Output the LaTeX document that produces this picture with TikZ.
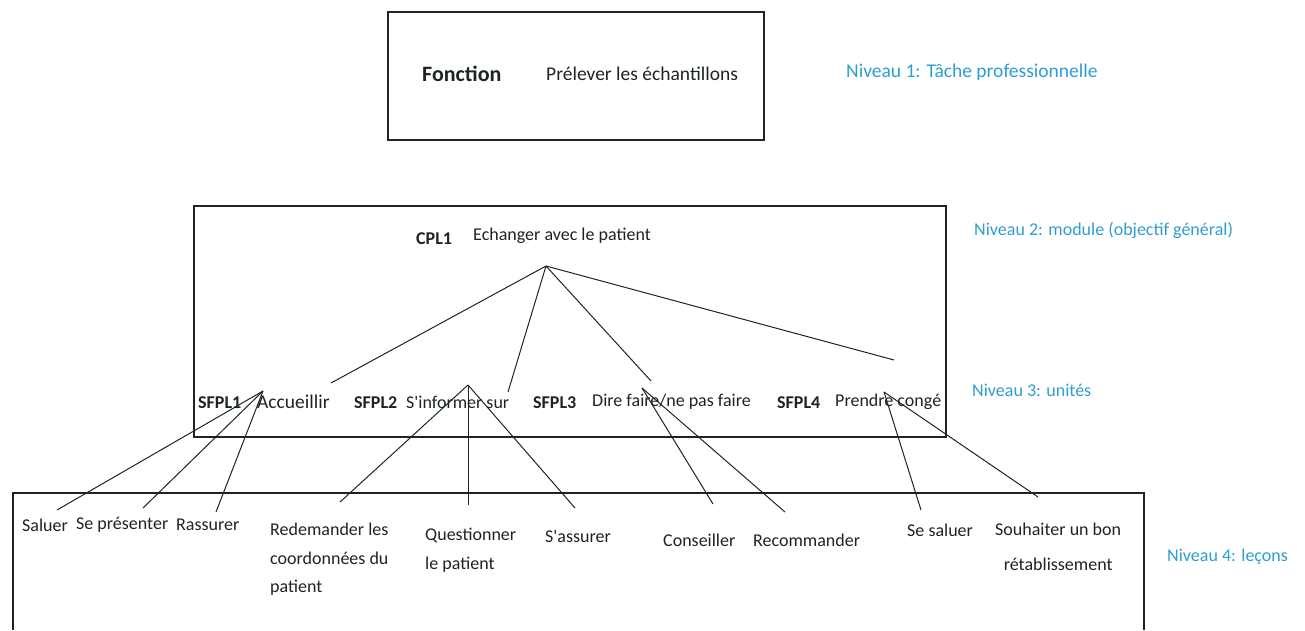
\documentclass[tikz,border=0pt]{standalone}
\usepackage{fontspec}
\setmainfont{Carlito}
\definecolor{txt}{RGB}{28,36,38}
\definecolor{niv}{RGB}{45,158,208}
\newcommand{\apos}{\textquotesingle}
\tikzset{
  frame/.style={draw=txt, line width=1.4pt},
  link/.style={draw=txt, line width=1pt},
  lbl/.style={inner sep=0pt, anchor=west, text=txt, font=\fontsize{18}{22}\selectfont},
  big/.style={inner sep=0pt, anchor=west, text=txt, font=\fontsize{19.5}{23}\selectfont},
  code/.style={inner sep=0pt, anchor=west, text=txt, font=\fontsize{18}{22}\selectfont\bfseries},
  level/.style={inner sep=0pt, anchor=west, text=niv, font=\fontsize{18}{22}\selectfont},
  multi/.style={inner sep=0pt, anchor=north west, text=txt, align=left, font=\fontsize{18}{28.5}\selectfont},
}
\begin{document}
\begin{tikzpicture}[x=1pt,y=-1pt]
\useasboundingbox (0,0) rectangle (1305,630);
% boxes
\draw[frame] (388,12) rectangle (764,140);
\draw[frame] (194,206) rectangle (946,437);
\draw[frame] (13,630) -- (13,493) -- (1144,493) -- (1144,630);
% level 1
\node[code, font=\fontsize{22}{26}\selectfont\bfseries] (fonc) at (422,74) {Fonction};
\node[big] (prel) at (546,74) {Prélever les échantillons};
\node[level, font=\fontsize{19.5}{23}\selectfont] (n1) at (846,72) {Niveau 1: Tâche professionnelle};
% level 2
\node[code] (cpl) at (416,239) {CPL1};
\node[lbl] (ech) at (473,236) {Echanger avec le patient};
\node[level] (n2) at (974,230) {Niveau 2: module (objectif général)};
% level 3
\node[code] (s1) at (198,403) {SFPL1};
\node[big] (acc) at (257,402) {Accueillir};
\node[code] (s2) at (354,403) {SFPL2};
\node[lbl] (inf) at (406,402) {S\apos informer sur};
\node[code] (s3) at (533,403) {SFPL3};
\node[lbl] (dire) at (592,402) {Dire faire/ne pas faire};
\node[code] (s4) at (777,403) {SFPL4};
\node[lbl] (pren) at (835,402) {Prendre congé};
\node[level] (n3) at (972,390) {Niveau 3: unités};
% level 4
\node[lbl] (sal) at (22,525) {Saluer};
\node[lbl] (pres) at (76,525) {Se présenter};
\node[lbl] (rass) at (176,525) {Rassurer};
\node[multi] (red) at (270,523) {Redemander les\\coordonnées du\\patient};
\node[multi] (ques) at (425,528) {Questionner\\le patient};
\node[lbl] (assu) at (545,536) {S\apos assurer};
\node[lbl] (cons) at (663,540) {Conseiller};
\node[lbl] (reco) at (753,540) {Recommander};
\node[lbl] (ssal) at (907,530) {Se saluer};
\node[multi, align=center, font=\fontsize{18}{35}\selectfont] (souh) at (995,523) {Souhaiter un bon\\rétablissement};
\node[level] (n4) at (1167,557) {Niveau 4: leçons};
% connector end points
\coordinate (pA) at (546,266);
\coordinate (eAcc) at (331,383);
\coordinate (eInf) at (508,392);
\coordinate (eDir) at (651,381);
\coordinate (ePre) at (894,360);
\coordinate (pAcc) at (263,391);
\coordinate (pInf) at (468,385);
\coordinate (pDir) at (642,388);
\coordinate (pPre) at (884,392);
\coordinate (tSal) at (57,510);
\coordinate (tPres) at (143,508);
\coordinate (tRass) at (216,512);
\coordinate (tRed) at (340,502);
\coordinate (tQues) at (468,505);
\coordinate (tAssu) at (575,508);
\coordinate (tCons) at (713,504);
\coordinate (tReco) at (785,512);
\coordinate (tSsal) at (921,510);
\coordinate (tSouh) at (1038,497);
% connectors
\draw[link] (pA) -- (eAcc);
\draw[link] (pA) -- (eInf);
\draw[link] (pA) -- (eDir);
\draw[link] (pA) -- (ePre);
\draw[link] (pAcc) -- (tSal);
\draw[link] (pAcc) -- (tPres);
\draw[link] (pAcc) -- (tRass);
\draw[link] (pInf) -- (tRed);
\draw[link] (pInf) -- (tQues);
\draw[link] (pInf) -- (tAssu);
\draw[link] (pDir) -- (tCons);
\draw[link] (pDir) -- (tReco);
\draw[link] (pPre) -- (tSsal);
\draw[link] (pPre) -- (tSouh);
\end{tikzpicture}
\end{document}
